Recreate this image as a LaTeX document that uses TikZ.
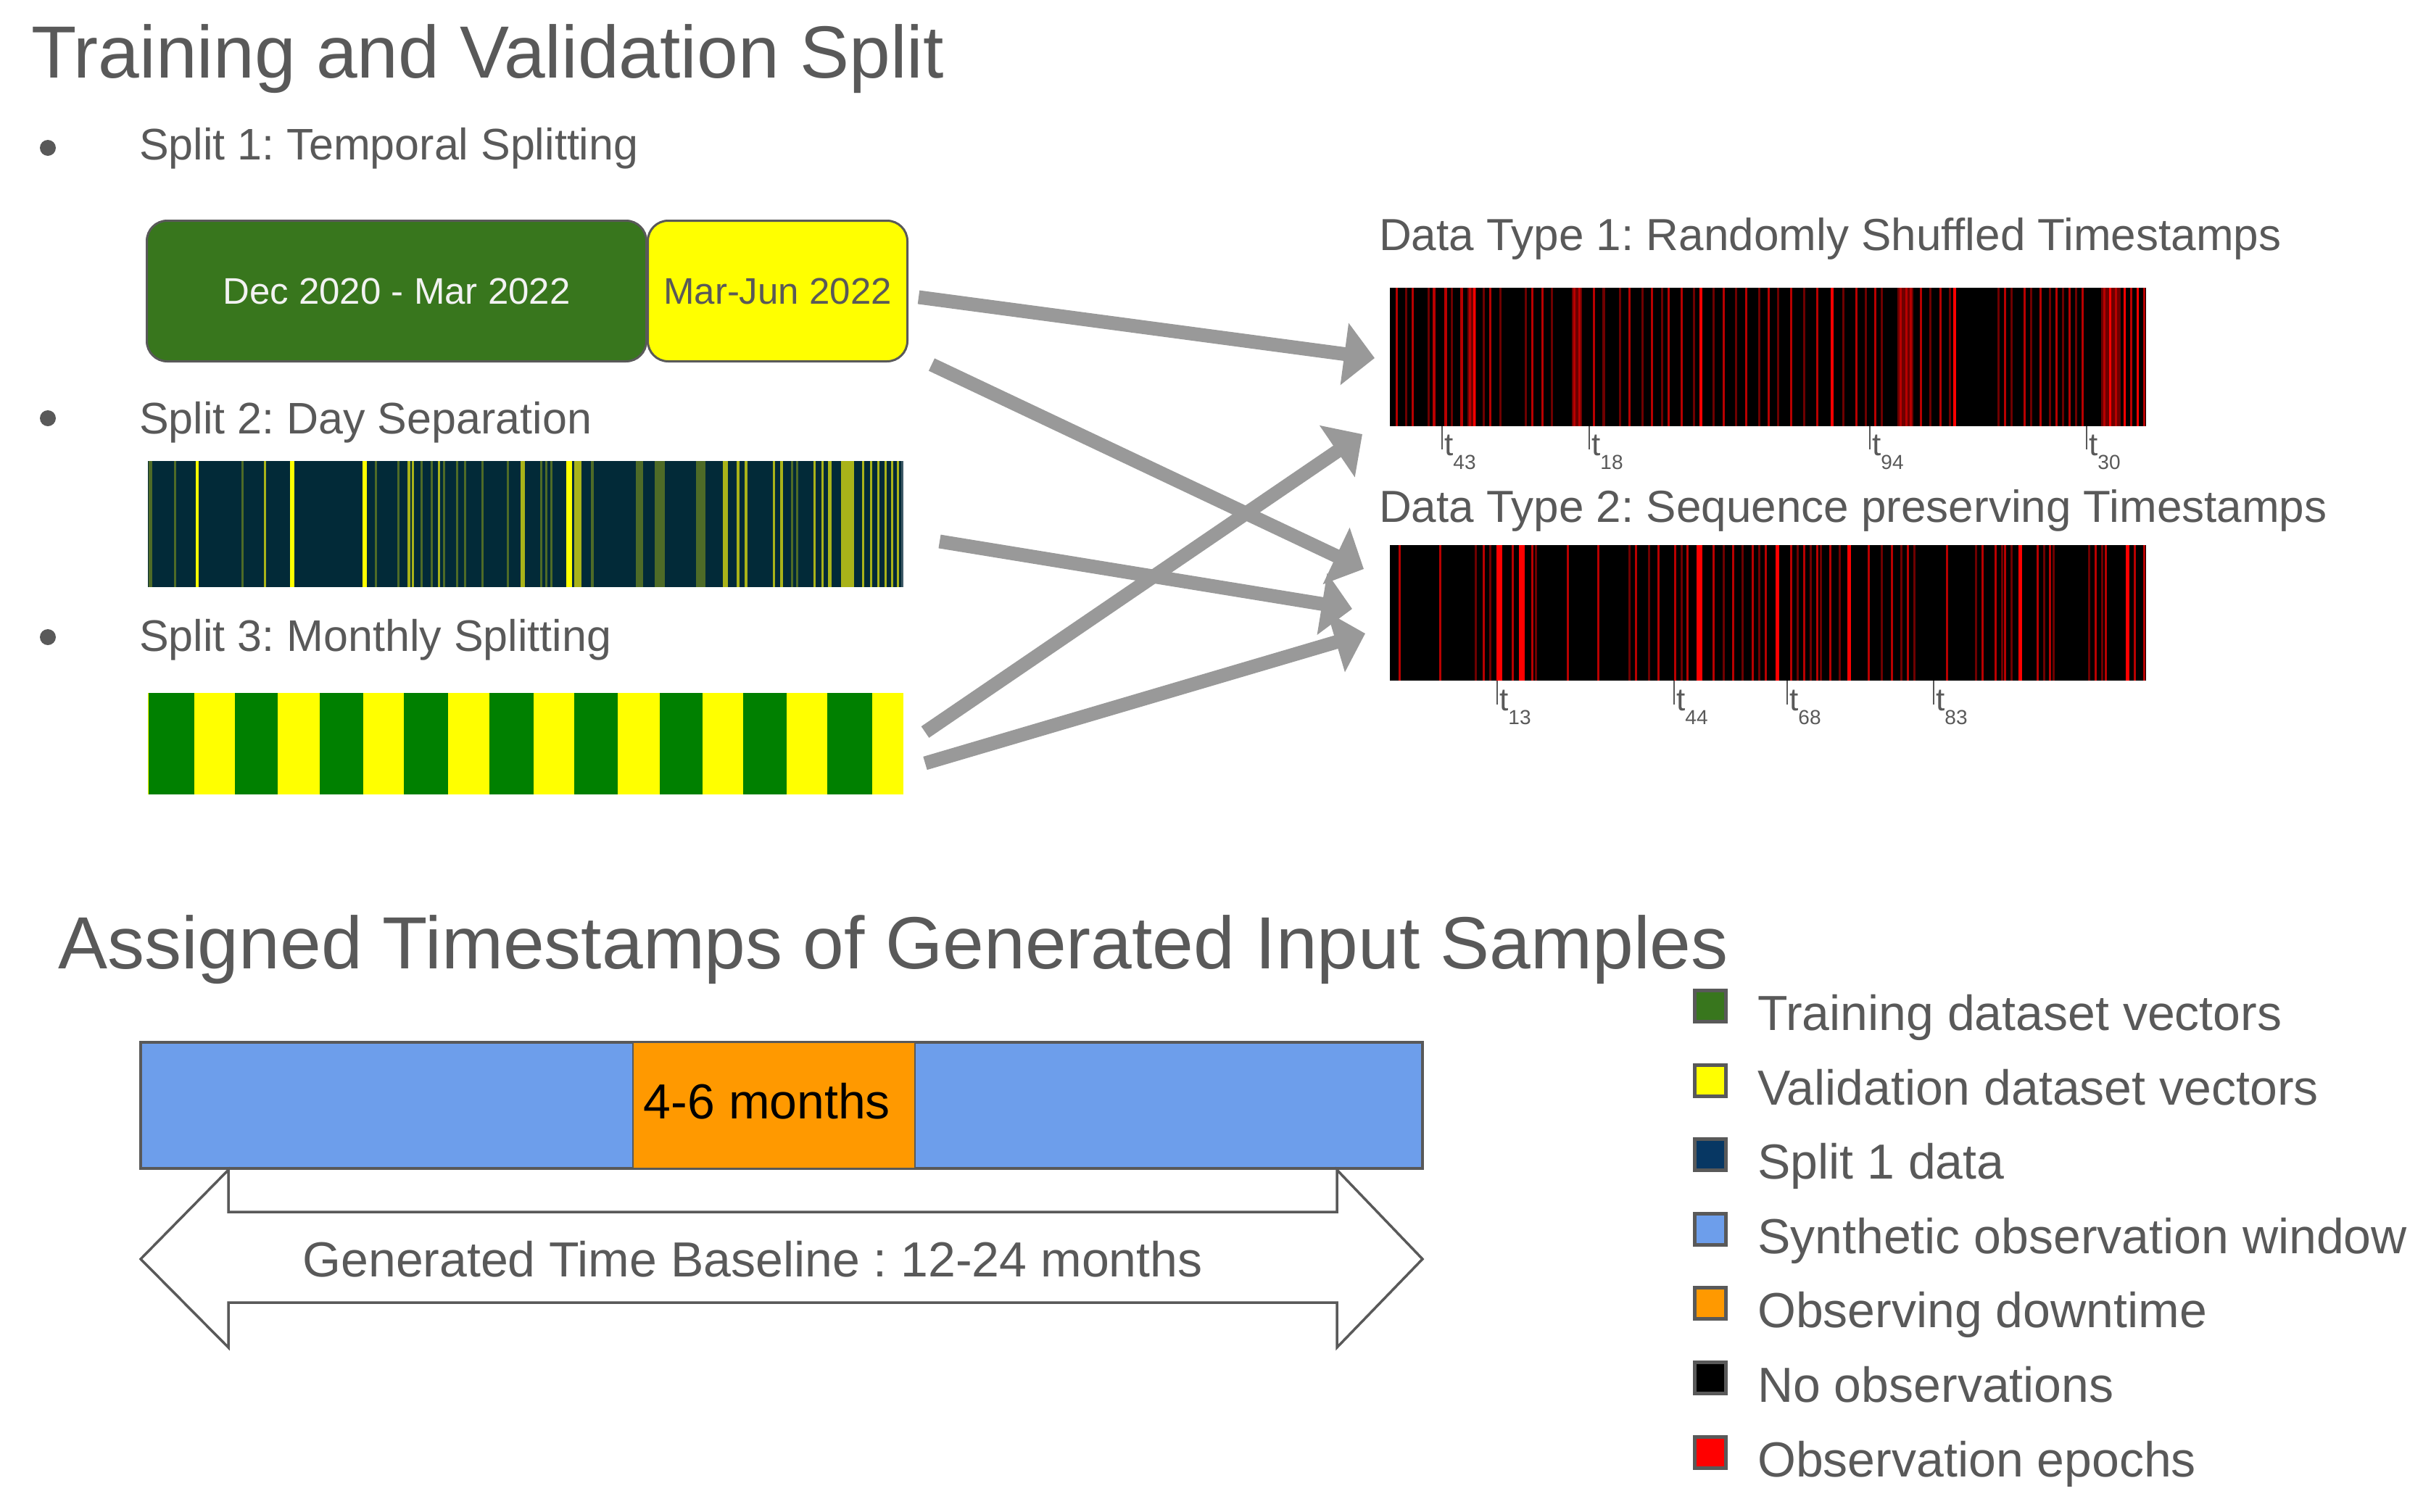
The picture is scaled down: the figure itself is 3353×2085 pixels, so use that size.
\documentclass[tikz,border=0pt]{standalone}
\usepackage{fontspec}
\setmainfont{Liberation Sans}
\usetikzlibrary{arrows.meta,calc}
\definecolor{txt}{HTML}{595959}
\definecolor{arrowgray}{HTML}{999999}
\definecolor{trgreen}{HTML}{38761D}
\definecolor{valyellow}{HTML}{FFFF00}
\definecolor{navy}{HTML}{022A38}
\definecolor{legnavy}{HTML}{073763}
\definecolor{synblue}{HTML}{6D9EEB}
\definecolor{downorange}{HTML}{FF9900}
\definecolor{mgreen}{HTML}{008000}
\definecolor{ya}{HTML}{FFFF00}
\definecolor{yb}{HTML}{A9B319}
\definecolor{yc}{HTML}{4E6B27}
\definecolor{yd}{HTML}{3E5A66}
\definecolor{ra}{HTML}{FF0000}
\definecolor{rb}{HTML}{B80000}
\definecolor{rc}{HTML}{6E0000}
\newcommand{\tlab}[1]{t\raisebox{-19pt}{\fontsize{28}{28}\selectfont #1}}
\frenchspacing
\begin{document}
\begin{tikzpicture}[x=1pt,y=-1pt,
  hdr/.style={font=\fontsize{102}{110}\selectfont, text=txt, anchor=base west, inner sep=0pt},
  sub/.style={font=\fontsize{61}{70}\selectfont, text=txt, anchor=base west, inner sep=0pt},
  leg/.style={font=\fontsize{68}{75}\selectfont, text=txt, anchor=base west, inner sep=0pt},
  legsq/.style={draw=txt, line width=5pt, minimum size=43pt, inner sep=0pt},
  bulletdot/.style={circle, fill=txt, minimum size=22pt, inner sep=0pt},
  bigarrow/.style={draw=arrowgray, line width=19pt, -{Triangle[width=84pt,length=42pt]}},
  barbox/.style={anchor=north west, inner sep=0pt, outer sep=0pt},
  splitbox/.style={draw=txt, line width=3pt, rounded corners=28pt, minimum height=194pt, anchor=north west, inner sep=0pt, font=\fontsize{51}{55}\selectfont},
  tickline/.style={draw=txt, line width=2pt},
  ticklab/.style={font=\fontsize{44}{44}\selectfont, text=txt, anchor=base west, inner sep=0pt}
]
\useasboundingbox (0,0) rectangle (3353,2085);

% Titles
\node[hdr] (title1) at (43,107) {Training and Validation Split};
\node[hdr] (title2) at (80,1336) {Assigned Timestamps of Generated Input Samples};

% Bullets and split labels
\node[bulletdot] (b1) at (66,204) {};
\node[bulletdot] (b2) at (66,577) {};
\node[bulletdot] (b3) at (66,879) {};
\node[sub] (s1lab) at (192,220) {Split 1: Temporal Splitting};
\node[sub] (s2lab) at (192,598) {Split 2: Day Separation};
\node[sub] (s3lab) at (192,898) {Split 3: Monthly Splitting};

% Split 1 boxes
\node[splitbox, fill=trgreen, minimum width=689pt, text=white!95!black] (train) at (201,303) {Dec 2020 - Mar 2022};
\node[splitbox, fill=valyellow, minimum width=358pt, text=txt] (val) at (892,303) {Mar-Jun 2022};

% Split 2 bar
\node[barbox, fill=navy, minimum width=1042pt, minimum height=174pt] (s2bar) at (204,636) {};
\foreach \x/\w/\c in {204.5/5/yc, 239.6/3/yc, 269.8/4/ya, 332.9/3/yc, 363.8/3/yb, 400/6/ya, 499.5/6/ya, 516.7/3/yc, 548.3/3/yc, 562/4/yb, 568/3/yb, 579.9/3/yc, 593.9/3/yc, 604.4/3/yb, 611.4/3/yc, 629/3/yc, 639.5/3/yc, 664/3/yc, 699.1/3/yc, 718/6/yb, 744.7/3/yc, 751.7/3/yc, 758.7/3/yc, 781/8/ya, 792/10/yb, 815/4/yc, 877/10/yc, 903/14/yc, 960/13/yc, 997/7/yb, 1016/4/yb, 1027/4/yb, 1066/3/yb, 1076/4/yb, 1091/3/yc, 1098/3/yc, 1122/3/yb, 1133/3/yb, 1142/5/yb, 1160/18/yb, 1189/3/yb, 1200/3/yb, 1210/3/yb, 1220/3/yb, 1229/3/yb, 1237/3/yb, 1243/3/yd}
  \fill[\c] (\x,636) rectangle ++(\w,174);

% Split 3 bar
\node[barbox, fill=valyellow, minimum width=1042pt, minimum height=140pt] (s3bar) at (204,956) {};
\foreach \a/\b in {204.6/267.7, 323.8/383.4, 441/501.3, 557.4/618.4, 674.6/735.6, 791.7/852, 909.6/969.2, 1025.3/1085, 1141/1202.8}
  \fill[mgreen] (\a,956) rectangle (\b,1096);

% Data type titles
\node[sub, font=\fontsize{62}{70}\selectfont] (dt1lab) at (1902,345) {Data Type 1: Randomly Shuffled Timestamps};
\node[sub, font=\fontsize{62}{70}\selectfont] (dt2lab) at (1902,720) {Data Type 2: Sequence preserving Timestamps};

% Data type 1 bar
\node[barbox, fill=black, minimum width=1043pt, minimum height=191pt] (dt1) at (1917,397) {};
\foreach \x/\w/\c in {2024/12/rc, 2168/14/rc, 2617/22/rc, 2898/27/rc}
  \fill[\c] (\x,397) rectangle ++(\w,191);
\foreach \x/\w/\c in {1924.6/3/rb, 1938/3/rc, 1947/3/rb, 1969/3/rc, 1976/4/rb, 1991.6/4/rb, 2000.5/3/rc, 2014/4/rb, 2026/3/rb, 2032/3/ra, 2045/3/rc, 2054/3/rb, 2067.5/3/rc, 2103/3/rc, 2112/3/rb, 2125.5/3/rb, 2139/3/rc, 2170/3/rb, 2177/3/rb, 2197/3/rb, 2210/4/rc, 2232.7/3/rc, 2246/3/rb, 2264/3/rc, 2277/3/rb, 2290.7/3/rc, 2299.6/3/rb, 2317.5/3/rb, 2335/3/rc, 2344/4/ra, 2362/3/rc, 2375.5/3/rb, 2393/3/rc, 2407/3/rb, 2424.6/3/rc, 2438/3/rb, 2451/3/rc, 2469/3/rb, 2487/3/rc, 2505/3/rb, 2524.6/4/ra, 2540.7/3/rc, 2558.6/3/rb, 2572/3/rc, 2585/3/rb, 2594/3/rc, 2620/3/rb, 2628/3/rb, 2634/3/rb, 2648/3/rb, 2661/3/rc, 2674.6/3/rb, 2688/3/rc, 2694/4/ra, 2755/3/rc, 2764/3/rb, 2773/3/rc, 2790.7/3/rb, 2799.6/3/rc, 2813/3/rb, 2826.4/3/rc, 2835/3/rb, 2844/3/rc, 2853/3/rb, 2862/3/rc, 2871/3/rb, 2901/3/rb, 2909/3/ra, 2917/3/rb, 2929/3/ra, 2938/3/rb, 2947/3/ra, 2956/3/rb}
  \fill[\c] (\x,397) rectangle ++(\w,191);

% Data type 2 bar
\node[barbox, fill=black, minimum width=1043pt, minimum height=187pt] (dt2) at (1917,752) {};
\foreach \x/\w/\c in {1929/3/rb, 1985/3/rb, 2033.6/3/rc, 2045/3/rb, 2054/3/rc, 2064/8/ra, 2085/3/rb, 2095/8/ra, 2112/3/rb, 2116.6/3/rc, 2161/3/rb, 2203/3/rb, 2246/3/rc, 2255/3/rb, 2273/3/rc, 2286/3/rb, 2308.6/3/rb, 2317.5/3/rc, 2326.4/3/rb, 2340/8/ra, 2362/3/rb, 2375.5/3/rc, 2389/3/rb, 2402/3/rc, 2415.7/3/rb, 2424.6/3/rc, 2433.6/3/rb, 2449/5/ra, 2469/3/rb, 2478/3/rc, 2487/3/rb, 2496/3/rc, 2505/3/rb, 2509.5/3/rc, 2523/3/rb, 2536/3/rc, 2548/5/ra, 2576.4/3/rb, 2594/3/rc, 2607.7/3/rb, 2621/3/rc, 2630/3/rb, 2639/3/rc, 2683.6/3/rb, 2723.7/3/rc, 2732.7/3/rb, 2750.5/3/rb, 2759.5/3/rc, 2764/3/rb, 2773/3/rc, 2784/5/ra, 2808.6/3/rb, 2817.5/3/rc, 2826.4/3/rb, 2831/3/rc, 2880/3/rc, 2889/3/rb, 2898/3/rc, 2902.7/3/rb, 2932/5/ra, 2942.5/3/rb, 2956/3/rb}
  \fill[\c] (\x,752) rectangle ++(\w,187);

% Tick marks and labels
\foreach \x/\n in {1989/43, 2192/18, 2579/94, 2878/30} {
  \draw[tickline] (\x,588) -- (\x,620);
  \node[ticklab] (tk1-\n) at (\x+3,628) {\tlab{\n}};
}
\foreach \x/\n in {2065/13, 2309/44, 2465/68, 2667/83} {
  \draw[tickline] (\x,939) -- (\x,972);
  \node[ticklab] (tk2-\n) at (\x+3,980) {\tlab{\n}};
}

% Arrows
\coordinate (a1s) at (1267,410);  \coordinate (a1e) at (1896,494);
\coordinate (a2s) at (1285,503);  \coordinate (a2e) at (1881,785);
\coordinate (a3s) at (1296,747);  \coordinate (a3e) at (1865,840);
\coordinate (a4s) at (1276,1010); \coordinate (a4e) at (1879,599);
\coordinate (a5s) at (1276,1053); \coordinate (a5e) at (1883,874);
\draw[bigarrow] (a1s) -- (a1e);
\draw[bigarrow] (a2s) -- (a2e);
\draw[bigarrow] (a3s) -- (a3e);
\draw[bigarrow] (a4s) -- (a4e);
\draw[bigarrow] (a5s) -- (a5e);

% Observation window bar
\node[barbox, draw=txt, line width=4pt, fill=synblue, minimum width=1768pt, minimum height=174pt] (win) at (194,1438) {};
\node[barbox, draw=txt, line width=2pt, fill=downorange, minimum width=389pt, minimum height=174pt] (down) at (873,1438) {};
\node[font=\fontsize{68}{70}\selectfont, text=black, anchor=base, inner sep=0pt] (downlab) at (1058,1543) {4-6 months};

% Double arrow baseline
\draw[draw=txt, line width=3.5pt, fill=white, line join=miter]
  (194,1737) -- (315,1614) -- (315,1672) -- (1844,1672) -- (1844,1614) -- (1962,1737)
  -- (1844,1859) -- (1844,1797) -- (315,1797) -- (315,1859) -- cycle;
\node[font=\fontsize{68}{75}\selectfont, text=txt, anchor=base, inner sep=0pt] (baseline) at (1038,1761) {Generated Time Baseline : 12-24 months};

% Legend
\foreach \i/\c/\t in {0/trgreen/Training dataset vectors, 1/valyellow/Validation dataset vectors, 2/legnavy/Split 1 data, 3/synblue/Synthetic observation window, 4/downorange/Observing downtime, 5/black/No observations, 6/ra/Observation epochs} {
  \node[legsq, fill=\c] (lsq\i) at (2359,1388+102.6*\i) {};
  \node[leg] (ltx\i) at (2424,1421.5+102.6*\i) {\t};
}
\end{tikzpicture}
\end{document}
